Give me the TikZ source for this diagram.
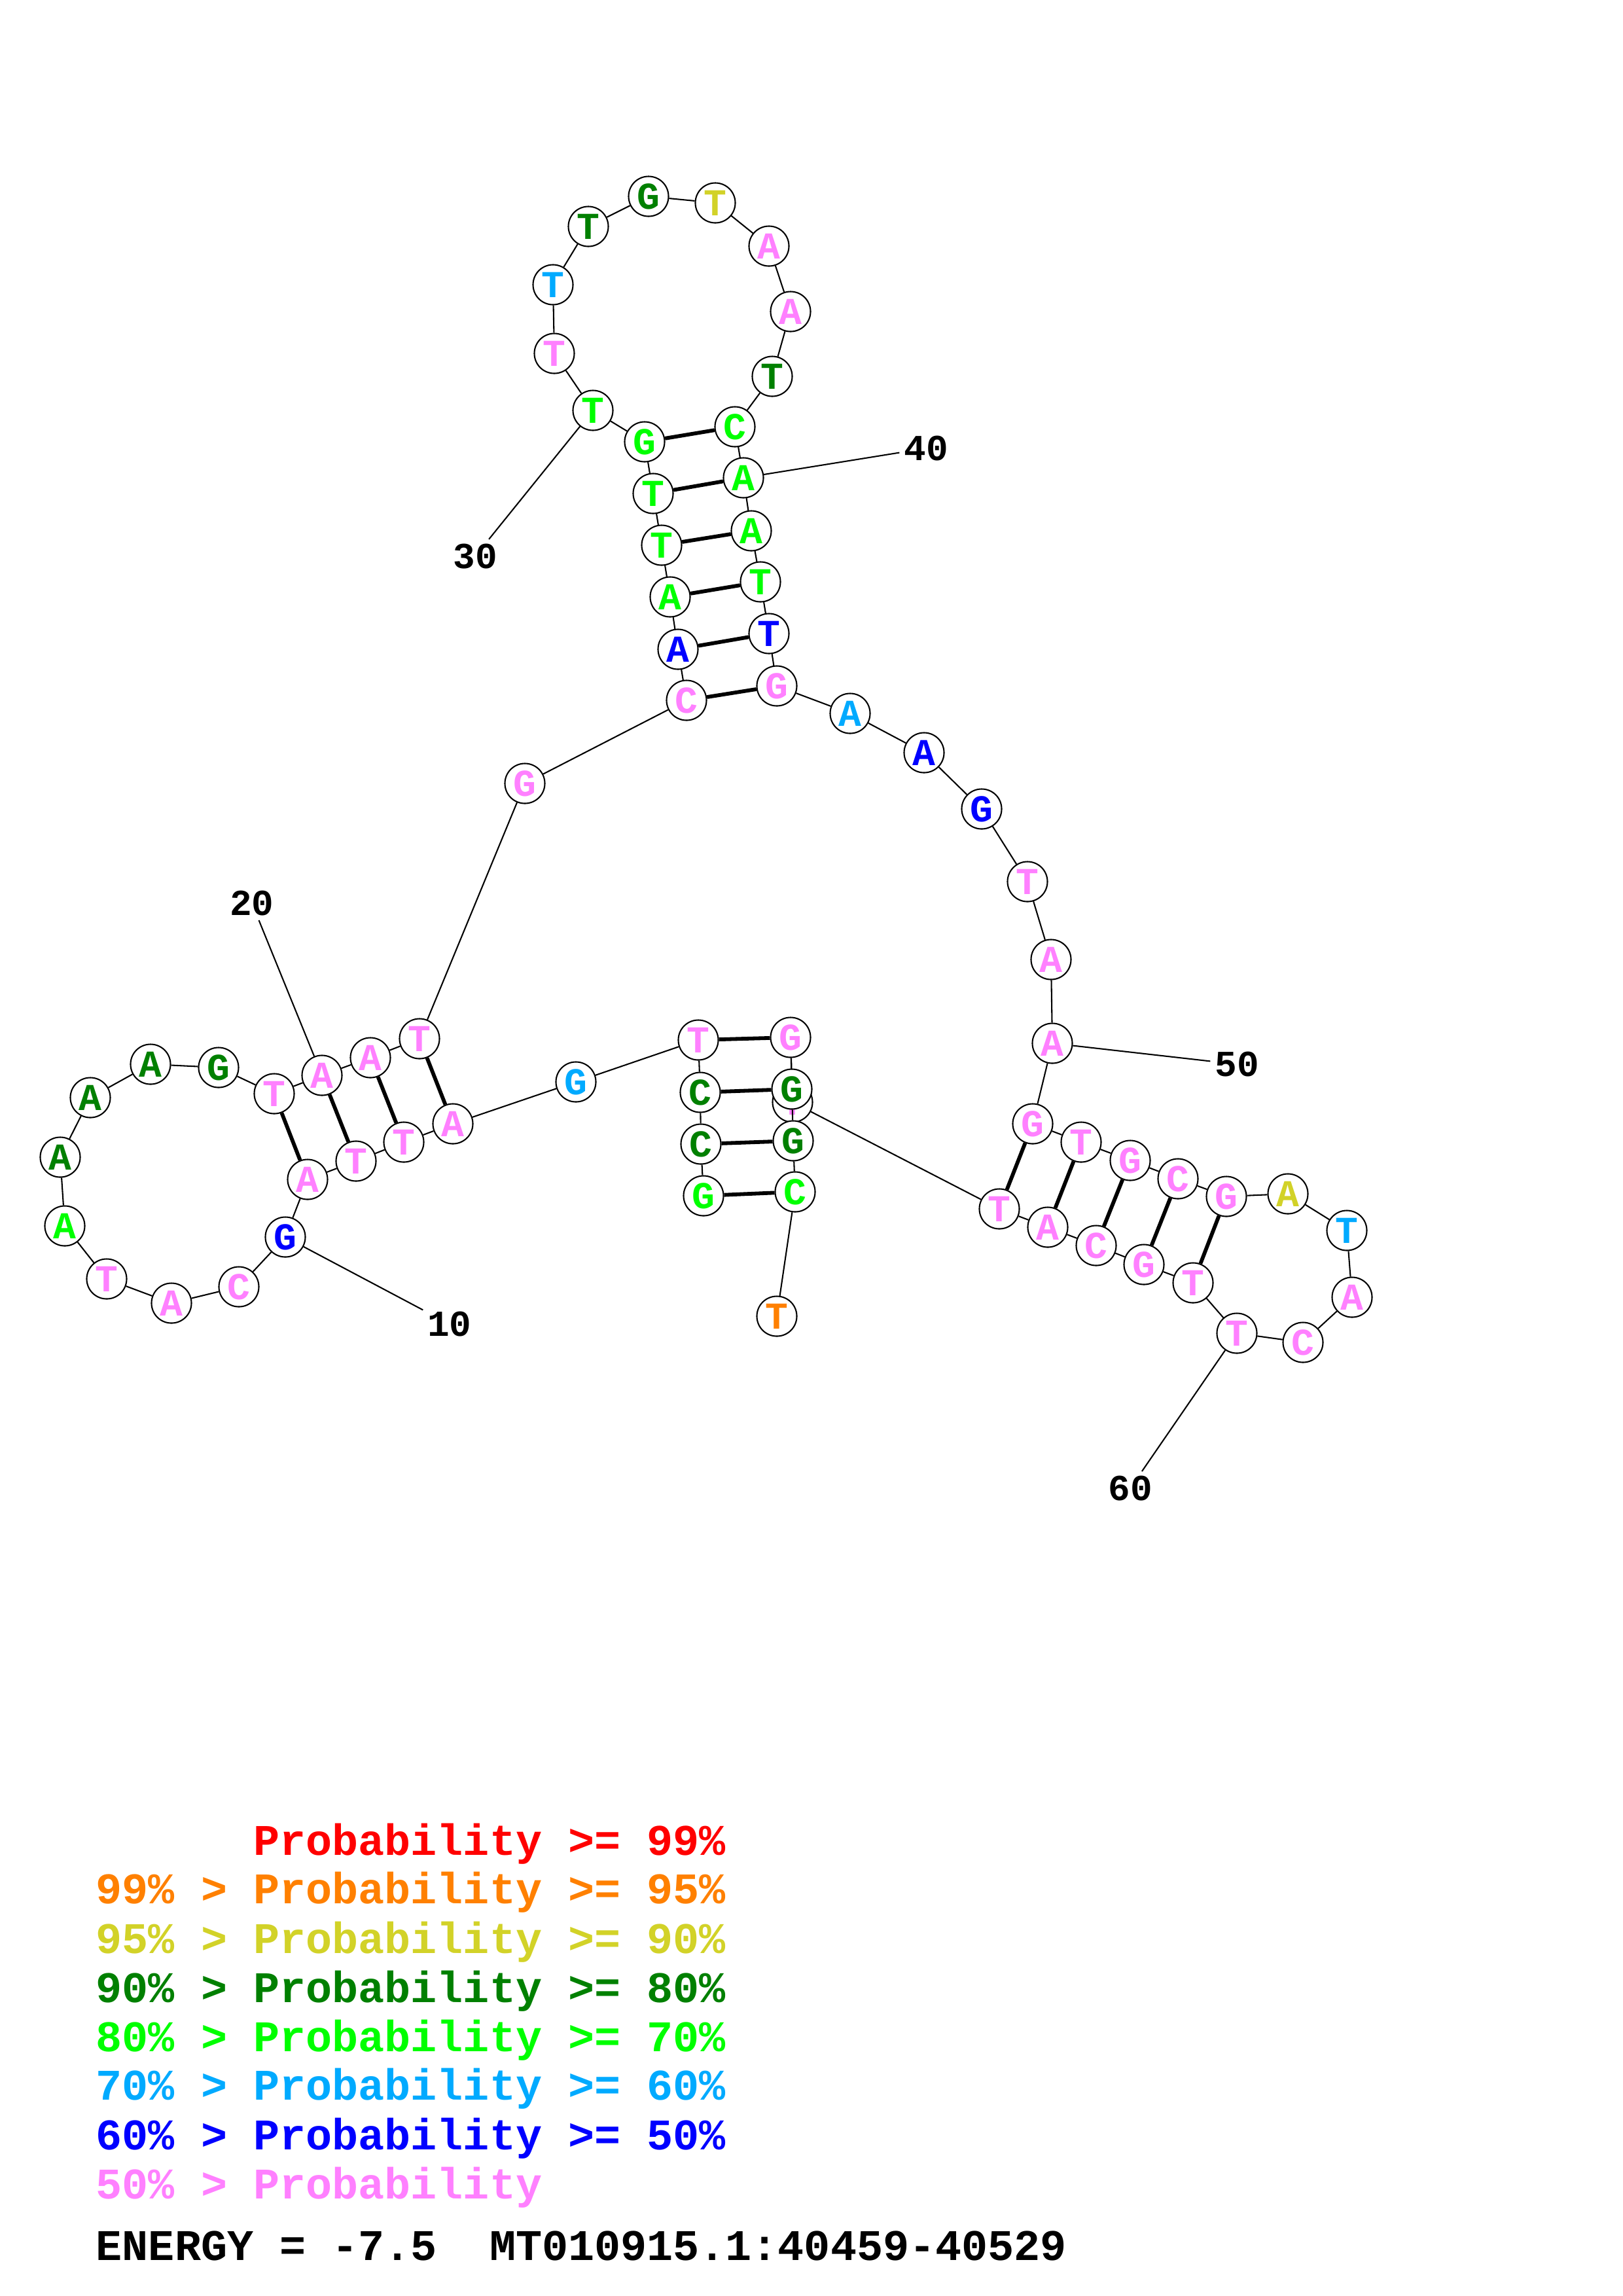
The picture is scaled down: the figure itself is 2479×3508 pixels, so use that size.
\documentclass[tikz,border=0pt]{standalone}
\usepackage{fontspec}
\setmonofont{Liberation Mono}
\usetikzlibrary{backgrounds}
\definecolor{pRed}{RGB}{255,0,0}
\definecolor{pOrange}{RGB}{255,128,0}
\definecolor{pYellow}{RGB}{210,210,40}
\definecolor{pDgreen}{RGB}{0,128,0}
\definecolor{pLgreen}{RGB}{0,255,0}
\definecolor{pLblue}{RGB}{0,170,255}
\definecolor{pBlue}{RGB}{0,0,255}
\definecolor{pPink}{RGB}{255,128,255}
\tikzset{
  nt/.style  ={circle, draw, fill=white, line width=0.5pt, minimum size=5.17mm,
               inner sep=0pt, font=\ttfamily\bfseries\fontsize{14}{14}\selectfont},
  bb/.style  ={line width=0.5pt},
  bp/.style  ={line width=1.4pt},
  num/.style ={font=\ttfamily\bfseries\fontsize{13.5}{13.5}\selectfont, inner sep=1.5pt},
  lg/.style  ={font=\ttfamily\bfseries\fontsize{16.1}{16.1}\selectfont,
               anchor=base west, inner sep=0pt},
}

\begin{document}
\begin{tikzpicture}[x=0.08471mm, y=-0.08471mm]
  \useasboundingbox (0,0) rectangle (2479,3508);

  % 5' stem, left strand
  \node[nt, text=pLgreen] (n1)  at (1075,1827) {G};
  \node[nt, text=pDgreen] (n2)  at (1071,1748) {C};
  \node[nt, text=pDgreen] (n3)  at (1070,1669) {C};
  \node[nt, text=pPink]   (n4)  at (1067,1589) {T};
  \node[nt, text=pLblue]  (n5)  at (880,1653)  {G};
  % left helix and loop
  \node[nt, text=pPink]   (n6)  at (692,1717)  {A};
  \node[nt, text=pPink]   (n7)  at (617,1745)  {T};
  \node[nt, text=pPink]   (n8)  at (544,1774)  {T};
  \node[nt, text=pPink]   (n9)  at (470,1802)  {A};
  \node[nt, text=pBlue]   (n10) at (436,1890)  {G};
  \node[nt, text=pPink]   (n11) at (365,1966)  {C};
  \node[nt, text=pPink]   (n12) at (262,1991)  {A};
  \node[nt, text=pPink]   (n13) at (163,1954)  {T};
  \node[nt, text=pLgreen] (n14) at (99,1873)   {A};
  \node[nt, text=pDgreen] (n15) at (92,1768)   {A};
  \node[nt, text=pDgreen] (n16) at (138,1677)  {A};
  \node[nt, text=pDgreen] (n17) at (230,1626)  {A};
  \node[nt, text=pDgreen] (n18) at (334,1631)  {G};
  \node[nt, text=pPink]   (n19) at (419,1671)  {T};
  \node[nt, text=pPink]   (n20) at (492,1643)  {A};
  \node[nt, text=pPink]   (n21) at (566,1616)  {A};
  \node[nt, text=pPink]   (n22) at (641,1587)  {T};
  \node[nt, text=pPink]   (n23) at (802,1197)  {G};
  % top hairpin
  \node[nt, text=pPink]   (n24) at (1049,1070) {C};
  \node[nt, text=pBlue]   (n25) at (1036,992)  {A};
  \node[nt, text=pLgreen] (n26) at (1024,912)  {A};
  \node[nt, text=pLgreen] (n27) at (1011,833)  {T};
  \node[nt, text=pLgreen] (n28) at (998,754)   {T};
  \node[nt, text=pLgreen] (n29) at (985,675)   {G};
  \node[nt, text=pLgreen] (n30) at (906,627)   {T};
  \node[nt, text=pPink]   (n31) at (847,540)   {T};
  \node[nt, text=pLblue]  (n32) at (845,435)   {T};
  \node[nt, text=pDgreen] (n33) at (899,346)   {T};
  \node[nt, text=pDgreen] (n34) at (991,300)   {G};
  \node[nt, text=pYellow] (n35) at (1093,310)  {T};
  \node[nt, text=pPink]   (n36) at (1175,376)  {A};
  \node[nt, text=pPink]   (n37) at (1208,476)  {A};
  \node[nt, text=pDgreen] (n38) at (1180,575)  {T};
  \node[nt, text=pLgreen] (n39) at (1123,652)  {C};
  \node[nt, text=pLgreen] (n40) at (1136,730)  {A};
  \node[nt, text=pLgreen] (n41) at (1148,811)  {A};
  \node[nt, text=pLgreen] (n42) at (1162,889)  {T};
  \node[nt, text=pBlue]   (n43) at (1175,968)  {T};
  \node[nt, text=pPink]   (n44) at (1187,1048) {G};
  \node[nt, text=pLblue]  (n45) at (1299,1090) {A};
  \node[nt, text=pBlue]   (n46) at (1412,1150) {A};
  \node[nt, text=pBlue]   (n47) at (1500,1236) {G};
  \node[nt, text=pPink]   (n48) at (1570,1347) {T};
  \node[nt, text=pPink]   (n49) at (1606,1466) {A};
  \node[nt, text=pPink]   (n50) at (1608,1594) {A};
  % right hairpin
  \node[nt, text=pPink]   (n51) at (1578,1717) {G};
  \node[nt, text=pPink]   (n52) at (1652,1745) {T};
  \node[nt, text=pPink]   (n53) at (1727,1773) {G};
  \node[nt, text=pPink]   (n54) at (1800,1801) {C};
  \node[nt, text=pPink]   (n55) at (1874,1828) {G};
  \node[nt, text=pYellow] (n56) at (1968,1824) {A};
  \node[nt, text=pLblue]  (n57) at (2058,1880) {T};
  \node[nt, text=pPink]   (n58) at (2066,1982) {A};
  \node[nt, text=pPink]   (n59) at (1991,2051) {C};
  \node[nt, text=pPink]   (n60) at (1890,2037) {T};
  \node[nt, text=pPink]   (n61) at (1823,1960) {T};
  \node[nt, text=pPink]   (n62) at (1748,1932) {G};
  \node[nt, text=pPink]   (n63) at (1675,1903) {C};
  \node[nt, text=pPink]   (n64) at (1601,1875) {A};
  \node[nt, text=pPink]   (n65) at (1527,1847) {T};
  % 3' stem, right strand
  \node[nt, text=pPink]   (n66) at (1211,1684) {T};
  \node[nt, text=pPink]   (n67) at (1208,1585) {G};
  \node[nt, text=pDgreen] (n68) at (1210,1664) {G};
  \node[nt, text=pDgreen] (n69) at (1212,1743) {G};
  \node[nt, text=pLgreen] (n70) at (1215,1821) {C};
  \node[nt, text=pOrange] (n71) at (1187,2011) {T};

  % backbone
  \draw[bb] (n1)--(n2)--(n3)--(n4)--(n5)--(n6)--(n7)--(n8)--(n9)--(n10)
            --(n11)--(n12)--(n13)--(n14)--(n15)--(n16)--(n17)--(n18)--(n19)--(n20)
            --(n21)--(n22)--(n23)--(n24)--(n25)--(n26)--(n27)--(n28)--(n29)--(n30)
            --(n31)--(n32)--(n33)--(n34)--(n35)--(n36)--(n37)--(n38)--(n39)--(n40)
            --(n41)--(n42)--(n43)--(n44)--(n45)--(n46)--(n47)--(n48)--(n49)--(n50)
            --(n51)--(n52)--(n53)--(n54)--(n55)--(n56)--(n57)--(n58)--(n59)--(n60)
            --(n61)--(n62)--(n63)--(n64)--(n65)--(n66);
  \begin{scope}[on background layer]
    \draw[bb] (n66)--(n67);
  \end{scope}
  \draw[bb] (n67)--(n68)--(n69)--(n70)--(n71);

  % base pairs
  \draw[bp] (n1)--(n70) (n2)--(n69) (n3)--(n68) (n4)--(n67);
  \draw[bp] (n6)--(n22) (n7)--(n21) (n8)--(n20) (n9)--(n19);
  \draw[bp] (n24)--(n44) (n25)--(n43) (n26)--(n42) (n27)--(n41) (n28)--(n40) (n29)--(n39);
  \draw[bp] (n51)--(n65) (n52)--(n64) (n53)--(n63) (n54)--(n62) (n55)--(n61);

  % position marks
  \node[num] (l10) at (687,2023) {10};
  \node[num] (l20) at (385,1380) {20};
  \node[num] (l30) at (726,850)  {30};
  \node[num] (l40) at (1415,685) {40};
  \node[num] (l50) at (1890,1626) {50};
  \node[num] (l60) at (1727,2274) {60};
  \draw[bb] (n10)--(l10) (n20)--(l20) (n30)--(l30)
            (n40)--(l40) (n50)--(l50) (n60)--(l60);

  % legend
  \node[lg, text=pRed]    (k99) at (146,2834) {\phantom{99\% > }Probability >= 99\%};
  \node[lg, text=pOrange] (k95) at (146,2908) {99\% > Probability >= 95\%};
  \node[lg, text=pYellow] (k90) at (146,2984) {95\% > Probability >= 90\%};
  \node[lg, text=pDgreen] (k80) at (146,3059) {90\% > Probability >= 80\%};
  \node[lg, text=pLgreen] (k70) at (146,3134) {80\% > Probability >= 70\%};
  \node[lg, text=pLblue]  (k60) at (146,3208) {70\% > Probability >= 60\%};
  \node[lg, text=pBlue]   (k50) at (146,3284) {60\% > Probability >= 50\%};
  \node[lg, text=pPink]   (k00) at (146,3359) {50\% > Probability};
  \node[lg]               (nrg) at (146,3453) {ENERGY = -7.5\ \ MT010915.1:40459-40529};
\end{tikzpicture}
\end{document}
